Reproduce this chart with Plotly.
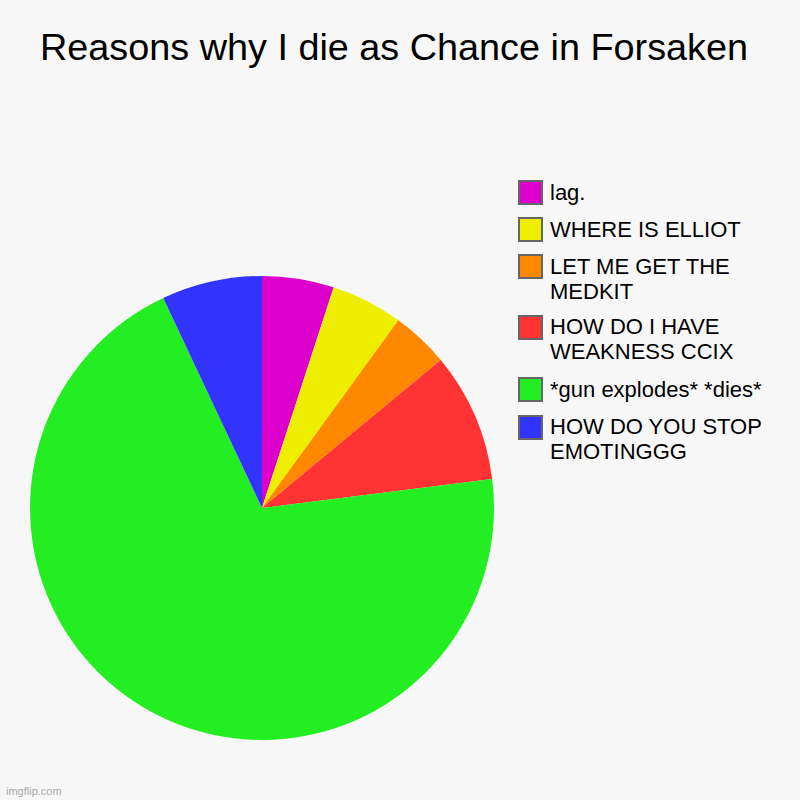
import plotly.graph_objs as go

# slices, clockwise from 12 o'clock (same order as the legend, top to bottom)
labels = [
    "lag.",
    "WHERE IS ELLIOT",
    "LET ME GET THE<br>MEDKIT",
    "HOW DO I HAVE<br>WEAKNESS CCIX",
    "*gun explodes* *dies*",
    "HOW DO YOU STOP<br>EMOTINGGG",
]
values = [5, 5, 4, 9, 70, 7]
colors = ["#dd00cc", "#eeee00", "#ff8800", "#ff3333", "#22ee22", "#3333ff"]

title = "Reasons why I die as Chance in Forsaken"
bg = "#f7f7f7"
W = H = 800


def px(v):
    return v / W


def py(v):
    return 1 - v / H


fig = go.Figure(go.Pie(
    labels=[l.replace("<br>", " ") for l in labels],
    values=values,
    marker=dict(colors=colors, line=dict(width=0)),
    sort=False,
    direction="clockwise",
    rotation=0,
    textinfo="none",
    showlegend=False,
    domain=dict(x=[px(30), px(494)], y=[py(740), py(276)]),
))

# legend drawn by hand so the swatches get the big grey-bordered boxes
shapes = []
annotations = []
box_tops = [181, 218, 255, 316, 378, 416]
for i, lab in enumerate(labels):
    top = box_tops[i]
    shapes.append(dict(
        type="rect", xref="paper", yref="paper",
        x0=px(519), x1=px(542), y0=py(top + 23), y1=py(top),
        fillcolor=colors[i], line=dict(color="#666666", width=2),
    ))
    for j, line in enumerate(lab.split("<br>")):
        annotations.append(dict(
            text=line, xref="paper", yref="paper",
            x=px(548), y=py(top + 11 + 25 * j),
            xanchor="left", yanchor="middle", showarrow=False,
            font=dict(size=22, color="#000000"),
        ))

annotations.append(dict(
    text=title, xref="paper", yref="paper",
    x=px(394), y=py(47), xanchor="center", yanchor="middle",
    showarrow=False, font=dict(size=37.8, color="#000000"),
))
annotations.append(dict(
    text="imgflip.com", xref="paper", yref="paper",
    x=px(4), y=py(791), xanchor="left", yanchor="middle",
    showarrow=False, font=dict(size=11, color="#aaaaaa"),
))

fig.update_layout(
    width=W, height=H,
    margin=dict(l=0, r=0, t=0, b=0),
    paper_bgcolor=bg, plot_bgcolor=bg,
    font=dict(family="Liberation Sans, Arial, sans-serif"),
    shapes=shapes,
    annotations=annotations,
)

# drop the page's default 8px body margin so the figure sits at 0,0
page_css = (
    "document.body.style.margin='0';"
    "document.body.style.overflow='hidden';"
    "document.body.style.background='" + bg + "';"
)

fig.write_html("out.html", post_script=page_css, config={"displayModeBar": False})
